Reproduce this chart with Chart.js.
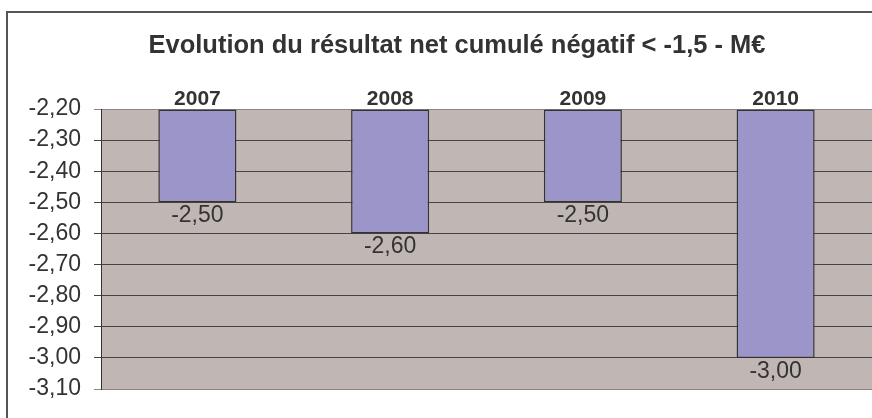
<!DOCTYPE html>
<html>
<head>
<meta charset="utf-8">
<script src="https://cdn.jsdelivr.net/npm/chart.js@4/dist/chart.umd.min.js"></script>
<style>
  html, body { margin: 0; padding: 0; background: #fff; overflow: hidden; width: 872px; height: 418px; }
  #frame { position: absolute; left: 6px; top: 11px; width: 920px; height: 430px; border: 2px solid #555; box-sizing: border-box; }
  #wrap { position: absolute; left: 0; top: 0; width: 872px; height: 418px; }
</style>
</head>
<body>
<div id="frame"></div>
<div id="wrap"><canvas id="chart" width="872" height="418"></canvas></div>
<script>
const years = ['2007', '2008', '2009', '2010'];
const results = [-2.50, -2.60, -2.50, -3.00];
const yTickValues = [-2.2, -2.3, -2.4, -2.5, -2.6, -2.7, -2.8, -2.9, -3.0, -3.1];
const yTop = -2.2;
const yBottom = -3.1;
const titleText = 'Evolution du résultat net cumulé négatif < -1,5 - M€';

const fmt = v => v.toFixed(2).replace('.', ',');
const FONT = '"Liberation Sans", Arial, sans-serif';

// fond gris du tracé + titre (centré sur le cadre complet, plus large que la fenêtre)
const plotBackground = {
    id: 'plotBackground',
    beforeDraw(chart) {
        const a = chart.chartArea;
        const ctx = chart.ctx;
        ctx.save();
        ctx.fillStyle = '#C0B7B4';
        ctx.fillRect(a.left, a.top, a.right - a.left, a.bottom - a.top);
        ctx.fillStyle = '#333';
        ctx.font = 'bold 25.5px ' + FONT;
        ctx.textAlign = 'center';
        ctx.textBaseline = 'alphabetic';
        ctx.fillText(titleText, 457, 53);
        ctx.restore();
    }
};

// étiquettes de valeur sous chaque barre
const valueLabels = {
    id: 'valueLabels',
    afterDatasetsDraw(chart) {
        const ctx = chart.ctx;
        const meta = chart.getDatasetMeta(0);
        ctx.save();
        ctx.font = '23px ' + FONT;
        ctx.fillStyle = '#333';
        ctx.textAlign = 'center';
        ctx.textBaseline = 'top';
        meta.data.forEach((bar, i) => {
            ctx.fillText(fmt(results[i]), bar.x, bar.y + 2);
        });
        ctx.restore();
    }
};

const ctx = document.getElementById('chart').getContext('2d');
new Chart(ctx, {
    type: 'bar',
    data: {
        labels: years,
        datasets: [{
            data: results,
            base: yTop,
            backgroundColor: '#9B95C9',
            borderColor: '#333',
            borderWidth: 1.5,
            borderSkipped: false,
            barPercentage: 0.405,
            categoryPercentage: 1
        }]
    },
    options: {
        responsive: false,
        animation: false,
        devicePixelRatio: 1,
        layout: { padding: { left: 0, right: 0, top: 60, bottom: 29 } },
        plugins: {
            legend: { display: false },
            tooltip: { enabled: false },
            title: { display: false }
        },
        scales: {
            x: {
                position: 'top',
                grid: { display: false, drawTicks: false },
                border: { display: false },
                ticks: {
                    color: '#333',
                    padding: -3,
                    maxRotation: 0,
                    font: { family: FONT, size: 21, weight: 'bold' }
                },
                afterFit(scale) { scale.height = 49; }
            },
            y: {
                min: yBottom,
                max: yTop,
                afterBuildTicks(scale) {
                    scale.ticks = yTickValues.map(v => ({ value: v }));
                },
                grid: {
                    color: c => (c.index === 0 || c.index === yTickValues.length - 1) ? '#8E8483' : '#444',
                    lineWidth: 1,
                    tickLength: 7
                },
                border: { display: true, color: '#333', width: 1 },
                ticks: {
                    color: '#333',
                    padding: 13,
                    font: { family: FONT, size: 23 },
                    callback: v => fmt(v)
                },
                afterFit(scale) { scale.width = 101; }
            }
        }
    },
    plugins: [plotBackground, valueLabels]
});
</script>
</body>
</html>
